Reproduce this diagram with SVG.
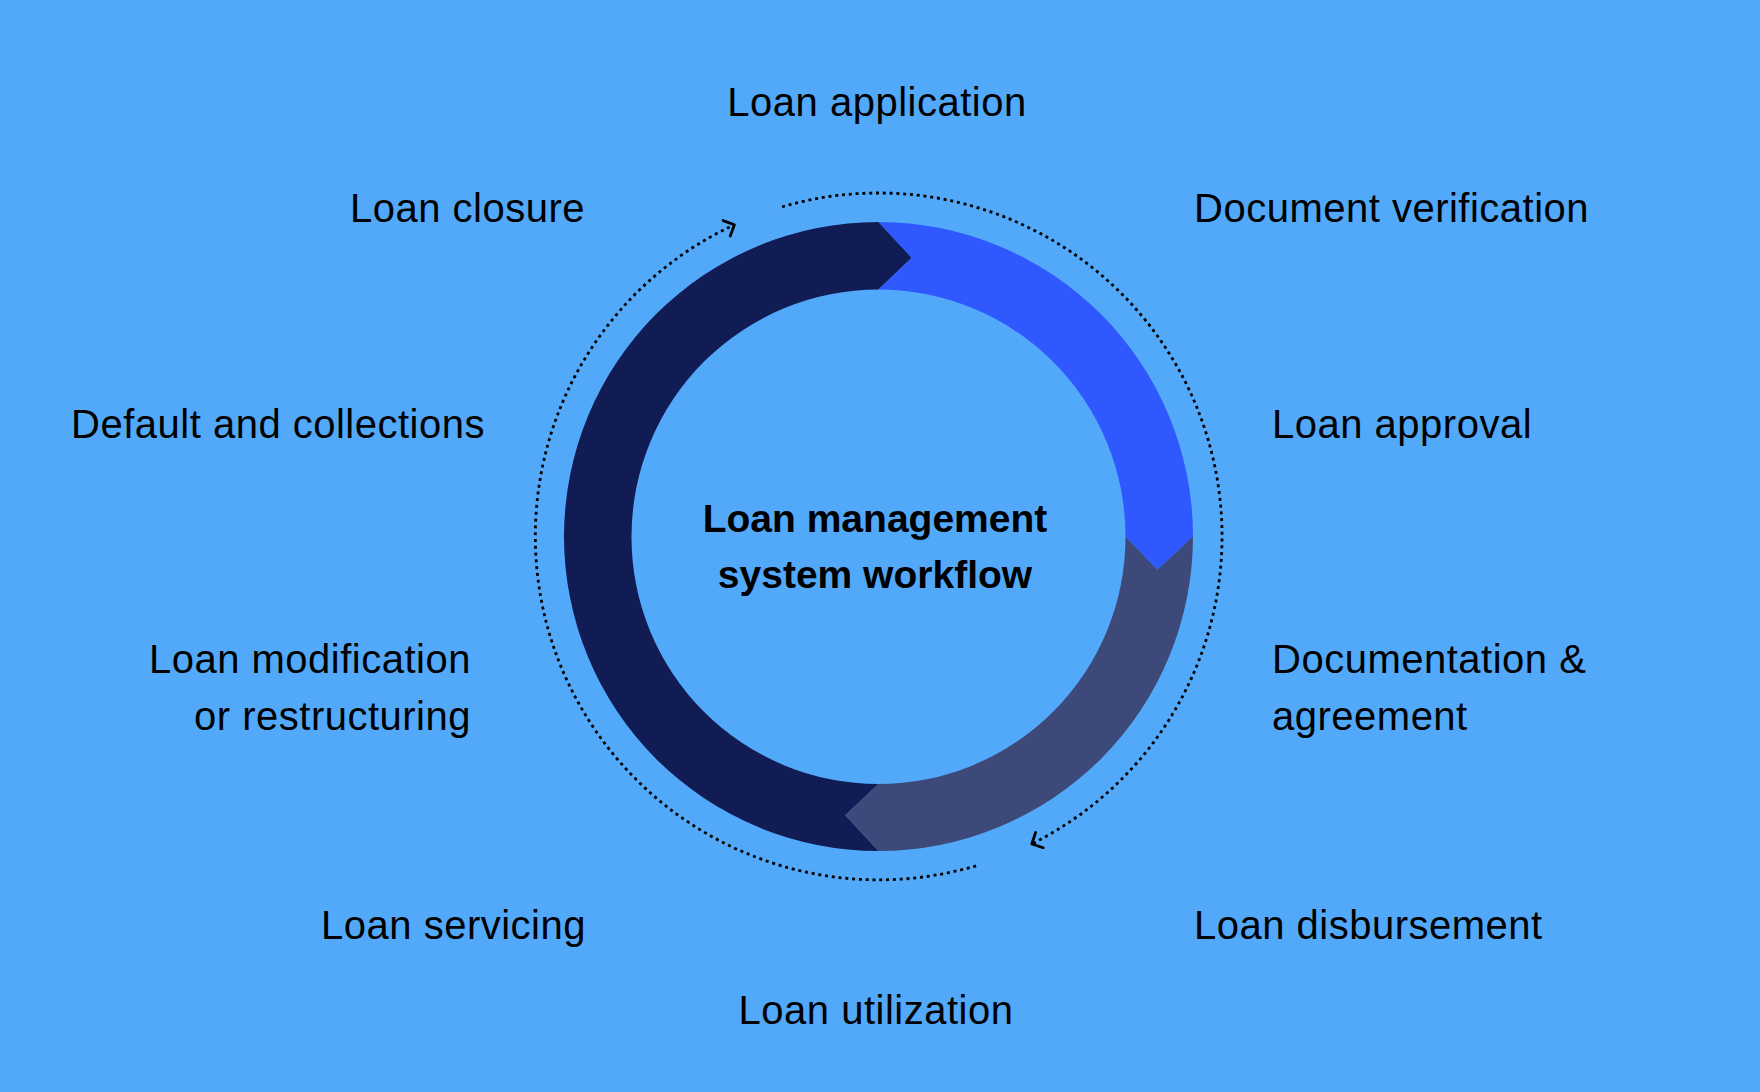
<svg xmlns="http://www.w3.org/2000/svg" width="1760" height="1092" viewBox="0 0 1760 1092">
  <style>
    .lbl { font-family: "Liberation Sans", Arial, sans-serif; font-size: 40px; letter-spacing: 0.5px; fill: #000000; }
    .ttl { font-family: "Liberation Sans", Arial, sans-serif; font-size: 39px; font-weight: bold; fill: #000000; }
    .dot { fill: none; stroke: #000000; stroke-width: 2.8; stroke-dasharray: 3 3.8; }
  </style>
  <defs>
    <marker id="arr" markerUnits="userSpaceOnUse" markerWidth="24" markerHeight="24" refX="12" refY="12" orient="auto" viewBox="0 0 24 24">
      <path d="M 3.5 3.5 L 12 12 L 3.5 20.5" fill="none" stroke="#000000" stroke-width="2.8" stroke-linecap="round" stroke-linejoin="round"/>
    </marker>
  </defs>
  <rect x="0" y="0" width="1760" height="1092" fill="#52A9FA"/>

  <g id="ring">
    <path id="seg-navy" fill="#111C55" d="M 878.5 851 A 314.5 314.5 0 0 1 564 536.5 A 314.5 314.5 0 0 1 878.5 222 L 911.7 257.7 L 878.5 289.5 A 247 247 0 0 0 631.5 536.5 A 247 247 0 0 0 878.5 784 L 845.3 815.3 Z"/>
    <path id="seg-blue" fill="#2F58FF" d="M 878.5 222 A 314.5 314.5 0 0 1 1193 536.5 L 1157.3 569.7 L 1125.5 536.5 A 247 247 0 0 0 878.5 289.5 L 911.7 257.7 Z"/>
    <path id="seg-gray" fill="#3D4978" d="M 1193 536.5 A 314.5 314.5 0 0 1 878.5 851 L 845.3 815.3 L 878.5 784 A 247 247 0 0 0 1125.5 536.5 L 1157.3 569.7 Z"/>
  </g>

  <g id="connectors">
    <path class="dot" d="M 782.1 206.8 A 343.5 343.5 0 0 1 1031.8 843.9" marker-end="url(#arr)"/>
    <path class="dot" d="M 976.1 865.8 A 343.5 343.5 0 0 1 734.4 224.7" marker-end="url(#arr)"/>
  </g>

  <g id="center-title">
    <text class="ttl" x="875" y="532" text-anchor="middle">Loan management</text>
    <text class="ttl" x="875" y="588" text-anchor="middle">system workflow</text>
  </g>

  <g id="n-application"><text class="lbl" x="877" y="116" text-anchor="middle">Loan application</text></g>
  <g id="n-verification"><text class="lbl" x="1194" y="222" text-anchor="start">Document verification</text></g>
  <g id="n-approval"><text class="lbl" x="1272" y="438" text-anchor="start">Loan approval</text></g>
  <g id="n-documentation">
    <text class="lbl" x="1272" y="673" text-anchor="start">Documentation &amp;</text>
    <text class="lbl" x="1272" y="730" text-anchor="start">agreement</text>
  </g>
  <g id="n-disbursement"><text class="lbl" x="1194" y="939" text-anchor="start">Loan disbursement</text></g>
  <g id="n-utilization"><text class="lbl" x="876" y="1024" text-anchor="middle">Loan utilization</text></g>
  <g id="n-servicing"><text class="lbl" x="586" y="939" text-anchor="end">Loan servicing</text></g>
  <g id="n-modification">
    <text class="lbl" x="471" y="673" text-anchor="end">Loan modification</text>
    <text class="lbl" x="471" y="730" text-anchor="end">or restructuring</text>
  </g>
  <g id="n-default"><text class="lbl" x="485" y="438" text-anchor="end">Default and collections</text></g>
  <g id="n-closure"><text class="lbl" x="585" y="222" text-anchor="end">Loan closure</text></g>
</svg>
